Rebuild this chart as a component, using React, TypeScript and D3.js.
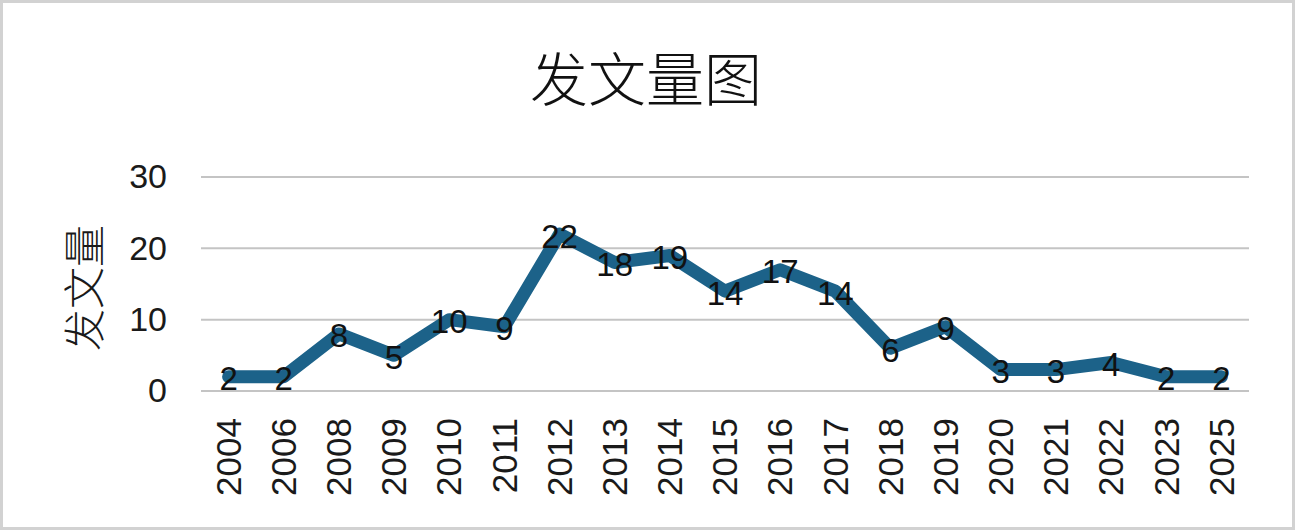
import React, { useEffect, useRef } from 'react';
import * as d3 from 'd3';

const years = ['2004', '2006', '2008', '2009', '2010', '2011', '2012', '2013', '2014', '2015', '2016', '2017', '2018', '2019', '2020', '2021', '2022', '2023', '2025'];
const counts = [2, 2, 8, 5, 10, 9, 22, 18, 19, 14, 17, 14, 6, 9, 3, 3, 4, 2, 2];
const yTicks = [0, 10, 20, 30];

const App = () => {
    const svgRef = useRef<SVGSVGElement>(null);

    useEffect(() => {
        const width = 1297;
        const height = 532;
        const plot = { left: 201, right: 1249, top: 177, bottom: 391 };
        const latin = 'Liberation Sans, Arial, sans-serif';
        const cjk = '"Noto Sans CJK SC", sans-serif';

        const svg = d3.select(svgRef.current)
            .attr('width', width)
            .attr('height', height);

        svg.selectAll('*').remove();

        // frame
        svg.append('rect')
            .attr('x', 1.5).attr('y', 1.5)
            .attr('width', 1292).attr('height', 527)
            .attr('fill', '#fff')
            .attr('stroke', '#d2d2d2')
            .attr('stroke-width', 3);

        const x = d3.scaleBand()
            .domain(years)
            .range([plot.left, plot.right]);

        const y = d3.scaleLinear()
            .domain([0, 30])
            .range([plot.bottom, plot.top]);

        const cx = (d: string) => (x(d) as number) + x.bandwidth() / 2;

        // title
        svg.append('text')
            .attr('x', 646)
            .attr('y', 101)
            .attr('text-anchor', 'middle')
            .attr('font-family', cjk)
            .attr('font-weight', 300)
            .attr('font-size', 58)
            .attr('fill', '#111')
            .text('发文量图');

        // gridlines
        svg.append('g')
            .selectAll('line')
            .data(yTicks)
            .join('line')
            .attr('x1', plot.left)
            .attr('x2', plot.right)
            .attr('y1', d => y(d))
            .attr('y2', d => y(d))
            .attr('stroke', '#c4c4c4')
            .attr('stroke-width', 2);

        // y axis labels
        const yAxis = svg.append('g')
            .attr('transform', `translate(${plot.left - 34},0)`)
            .call(d3.axisLeft(y).tickValues(yTicks).tickSize(0).tickPadding(0));
        yAxis.select('.domain').remove();
        yAxis.selectAll('text')
            .attr('font-family', latin)
            .attr('font-size', 34)
            .attr('fill', '#1a1a1a');

        // y axis title
        svg.append('text')
            .attr('transform', `translate(100,${(plot.top + plot.bottom) / 2 + 4}) rotate(-90)`)
            .attr('text-anchor', 'middle')
            .attr('font-family', cjk)
            .attr('font-weight', 300)
            .attr('font-size', 42)
            .attr('fill', '#1a1a1a')
            .text('发文量');

        // x axis labels
        const xAxis = svg.append('g')
            .attr('transform', `translate(0,${plot.bottom})`)
            .call(d3.axisBottom(x).tickSize(0).tickPadding(0));
        xAxis.select('.domain').remove();
        xAxis.selectAll('text')
            .attr('font-family', latin)
            .attr('font-size', 35)
            .attr('fill', '#1a1a1a')
            .attr('text-anchor', 'end')
            .attr('dy', '0.35em')
            .attr('transform', 'translate(0,27) rotate(-90)');

        // line
        const line = d3.line<number>()
            .x((_, i) => cx(years[i]))
            .y(d => y(d));

        svg.append('path')
            .datum(counts)
            .attr('d', line)
            .attr('fill', 'none')
            .attr('stroke', '#1c6289')
            .attr('stroke-width', 13)
            .attr('stroke-linejoin', 'round')
            .attr('stroke-linecap', 'round');

        // data labels
        svg.append('g')
            .selectAll('text')
            .data(counts)
            .join('text')
            .attr('x', (_, i) => cx(years[i]))
            .attr('y', d => y(d) + 2)
            .attr('dy', '0.35em')
            .attr('text-anchor', 'middle')
            .attr('font-family', latin)
            .attr('font-size', 33)
            .attr('fill', '#111')
            .text(d => d);
    }, []);

    return (
        <svg ref={svgRef} style={{ position: 'absolute', left: 0, top: 0 }}></svg>
    );
};

export default App;
